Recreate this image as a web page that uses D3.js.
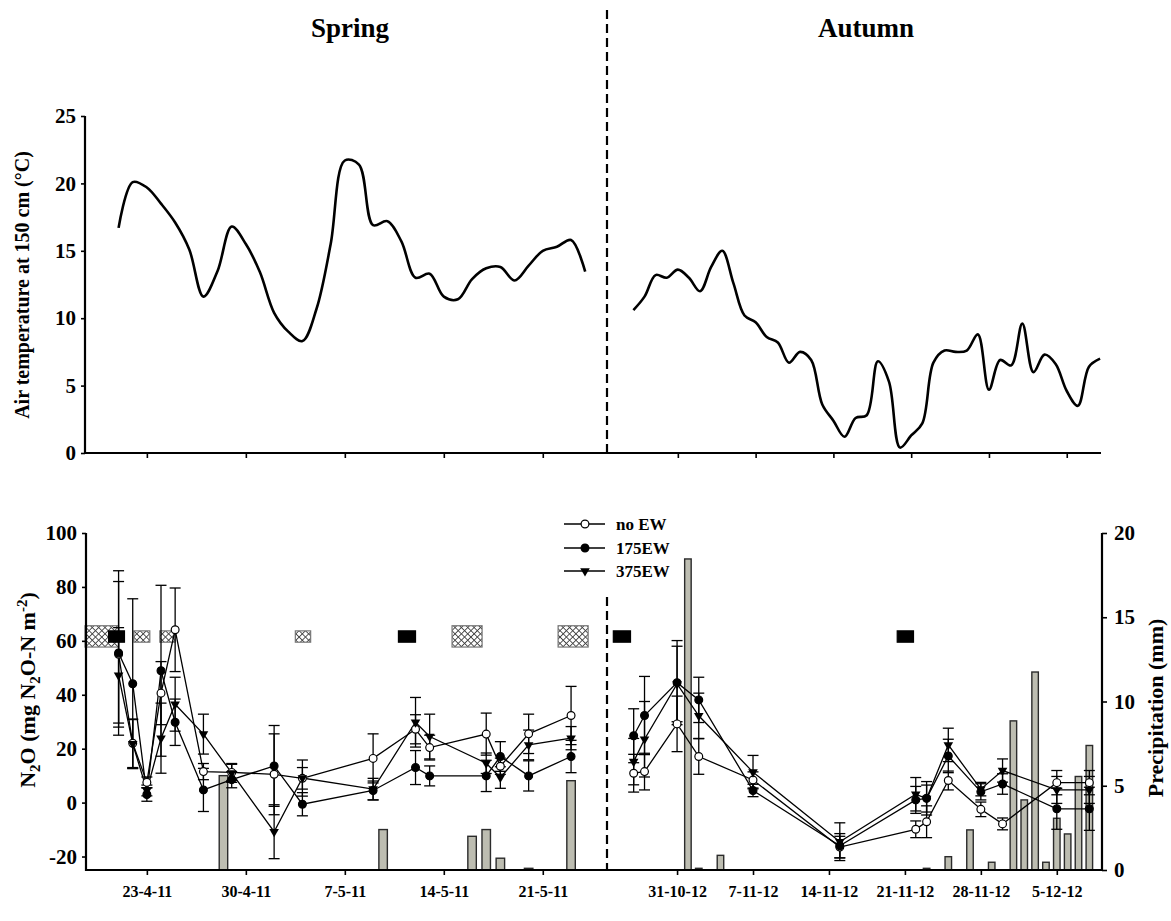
<!DOCTYPE html>
<html>
<head>
<meta charset="utf-8">
<script src="https://cdn.jsdelivr.net/npm/d3@7.9.0/dist/d3.min.js"></script>
<style>
  body { margin: 0; background: #fff; }
  svg { display: block; }
  text { font-family: "Liberation Serif", "Times New Roman", serif; font-weight: bold; fill: #000; }
</style>
</head>
<body>
<svg id="chart" width="1171" height="921"></svg>
<script>
// ---- data ----
// daily air temperature (°C) at 150 cm
const springTempStart = "2011-04-21";
const springTemp = [16.7, 20.1, 19.7, 18.5, 17.1, 15.1, 11.6, 13.5, 16.8, 15.5,
  13.4, 10.4, 9.0, 8.3, 10.7, 15.5, 21.7, 21.4, 16.9, 17.2, 15.7, 13.0, 13.3, 11.6,
  11.4, 12.9, 13.7, 13.8, 12.8, 13.9, 15.0, 15.3, 15.8, 13.45];
const autumnTempStart = "2012-10-27";
const autumnTemp = [10.6, 11.6, 13.2, 13.0, 13.6, 13.0, 12.0, 13.8, 15.0, 12.6,
  10.2, 9.7, 8.6, 8.2, 6.7, 7.5, 6.9, 3.6, 2.4, 1.2, 2.6, 2.8, 6.8, 5.3, 0.4, 1.3,
  2.2, 6.7, 7.6, 7.5, 7.6, 8.8, 4.7, 6.9, 6.5, 9.6, 6.0, 7.3, 6.6, 4.6, 3.5, 6.4, 7.0];

// N2O fluxes (mg N2O-N m-2) with error bars
const springDates = ["2011-04-21", "2011-04-22", "2011-04-23", "2011-04-24", "2011-04-25",
  "2011-04-27", "2011-04-29", "2011-05-02", "2011-05-04", "2011-05-09", "2011-05-12",
  "2011-05-13", "2011-05-17", "2011-05-18", "2011-05-20", "2011-05-23"];
const springNoEW    = [55, 22, 7.5, 40.6, 64.1, 11.5, 11.2, 10.5, 9, 16.4, 27.2, 20.4, 25.4, 13.5, 25.5, 32.3];
const springNoEWErr = [27, 9, 2, 11.7, 15.5, 3, 3, 15, 4, 9.1, 5.4, 4.6, 7.8, 3, 7.3, 10.8];
const spring175     = [55.5, 44.1, 3, 48.9, 29.8, 4.7, 8.5, 13.6, -0.6, 4.5, 13, 9.9, 9.9, 17.1, 9.9, 17.1];
const spring175Err  = [30.5, 31.5, 2.5, 31.7, 8.6, 8, 3, 15, 4.3, 3.5, 6.3, 3.7, 5.8, 5.5, 5.6, 6];
const spring375     = [47.2, 21.8, 4.5, 23.9, 36.5, 25.4, 11, -10.8, 9.1, 5, 29.8, 24.5, 14.6, 9.3, 21.4, 23.9];
const spring375Err  = [17.7, 9, 2, 13, 10, 7.4, 3.5, 10, 6.7, 4, 9.2, 8.3, 3.8, 4, 5.5, 4.3];

const autumnDates = ["2012-10-27", "2012-10-28", "2012-10-31", "2012-11-02", "2012-11-07",
  "2012-11-15", "2012-11-22", "2012-11-23", "2012-11-25", "2012-11-28", "2012-11-30",
  "2012-12-05", "2012-12-08"];
const autumnNoEW    = [10.9, 11.5, 29.2, 17.1, 8.4, -16.5, -9.9, -7.1, 8.2, -2.5, -7.9, 7.4, 7.4];
const autumnNoEWErr = [7, 6.8, 10.3, 6.6, 3, 4, 3.1, 5.9, 3.5, 2.7, 2.2, 4.5, 4.5];
const autumn175     = [24.8, 32.3, 44.5, 38.1, 4.5, -16, 1, 1.6, 17.3, 4, 6.9, -2.3, -2.3];
const autumn175Err  = [10, 14.5, 15.6, 8.4, 2.3, 4.5, 5, 6.2, 6.2, 3, 3.8, 7.6, 8];
const autumn375     = [15.2, 23.5, 44, 32.2, 11.3, -14.5, 3.1, 1.5, 21.4, 5, 11.9, 4.7, 4.7];
const autumn375Err  = [8.6, 14, 14, 8.4, 6.2, 7, 6.2, 5, 6.2, 2.5, 4.3, 5, 5];

// daily precipitation (mm)
const springRainDates = ["2011-04-28 10", "2011-05-09 17", "2011-05-16 00", "2011-05-17 00",
  "2011-05-18 00", "2011-05-20 00", "2011-05-23 00"];
const springRain = [5.6, 2.4, 2.0, 2.4, 0.7, 0.1, 5.3];
const autumnRainDates = ["2012-11-01", "2012-11-02", "2012-11-04", "2012-11-23", "2012-11-25",
  "2012-11-27", "2012-11-29", "2012-12-01", "2012-12-02", "2012-12-03", "2012-12-04",
  "2012-12-05", "2012-12-06", "2012-12-07", "2012-12-08"];
const autumnRain = [18.46, 0.1, 0.87, 0.1, 0.79, 2.38, 0.46, 8.85, 4.16, 11.75, 0.46, 3.07, 2.14, 5.55, 7.39];

// field events drawn as boxes: [start, end, kind]
const springEvents = [
  ["2011-04-18 15", "2011-04-21 00", "hatch"],
  ["2011-04-22 02", "2011-04-23 05", "hatch"],
  ["2011-04-23 22", "2011-04-25 00", "hatch"],
  ["2011-05-03 12", "2011-05-04 14", "hatch"],
  ["2011-05-14 14", "2011-05-16 17", "hatch"],
  ["2011-05-22 02", "2011-05-24 05", "hatch"],
  ["2011-04-20 07", "2011-04-21 10", "solid"],
  ["2011-05-10 19", "2011-05-12 00", "solid"]
];
const autumnEvents = [
  ["2012-10-25 03", "2012-10-26 17", "solid"],
  ["2012-11-20 07", "2012-11-21 19", "solid"]
];

const seriesNames = ["no EW", "175EW", "375EW"];
const springTicks = ["2011-04-23", "2011-04-30", "2011-05-07", "2011-05-14", "2011-05-21"];
const autumnTicks = ["2012-10-31", "2012-11-07", "2012-11-14", "2012-11-21", "2012-11-28", "2012-12-05"];

// ---- helpers ----
const parseDay = d3.timeParse("%Y-%m-%d");
const parseHour = d3.timeParse("%Y-%m-%d %H");
const parse = s => s.length > 10 ? parseHour(s) : parseDay(s);
const fmt = d3.timeFormat("%-d-%-m-%y");
const DAY = 864e5;
const plain = d => String(d); // keeps the hyphen minus used in the figure

const svg = d3.select("#chart");

// crosshatch fill for the event boxes
const defs = svg.append("defs");
const pat = defs.append("pattern")
  .attr("id", "hatch")
  .attr("width", 4.5).attr("height", 4.5)
  .attr("patternUnits", "userSpaceOnUse")
  .attr("patternTransform", "rotate(45)");
pat.append("rect").attr("width", 4.5).attr("height", 4.5).attr("fill", "#fff");
pat.append("line").attr("x1", 0).attr("y1", 0).attr("x2", 4.5).attr("y2", 0).attr("stroke", "#444").attr("stroke-width", 1.8);
pat.append("line").attr("x1", 0).attr("y1", 0).attr("x2", 0).attr("y2", 4.5).attr("stroke", "#444").attr("stroke-width", 1.8);

// ---- scales ----
const xSpring = d3.scaleTime().domain([parse("2011-04-18 15"), parse("2011-05-25 13")]).range([85, 607]);
const xAutumnTop = d3.scaleTime().domain([parse("2012-10-24 15"), parse("2012-12-08 02")]).range([607, 1101]);
const xAutumnBot = d3.scaleTime().domain([parse("2012-10-24 13"), parse("2012-12-09 04")]).range([607, 1102]);

const yT = d3.scaleLinear().domain([0, 25]).range([453, 116]);
const yN = d3.scaleLinear().domain([-25, 100]).range([870, 533]);
const yP = d3.scaleLinear().domain([0, 20]).range([870, 533]);

function styleAxis(g, size) {
  g.select(".domain").remove();
  g.selectAll(".tick line").attr("stroke", "#000").attr("stroke-width", 1.6);
  g.selectAll(".tick text").attr("font-size", size).attr("fill", "#000")
    .attr("font-family", "Liberation Serif, Times New Roman, serif").attr("font-weight", "bold");
}

// ---- top panel: air temperature ----
svg.append("g").attr("transform", "translate(85,0)")
  .call(d3.axisLeft(yT).tickValues([0, 5, 10, 15, 20, 25]).tickFormat(plain).tickSize(4).tickPadding(5).tickSizeOuter(0))
  .call(g => styleAxis(g, 21));
svg.append("g").attr("transform", "translate(0,453)")
  .call(d3.axisBottom(xSpring).tickValues(springTicks.map(parse)).tickSize(5).tickFormat("").tickSizeOuter(0))
  .call(g => styleAxis(g, 16));
svg.append("g").attr("transform", "translate(0,453)")
  .call(d3.axisBottom(xAutumnTop).tickValues(autumnTicks.map(parse)).tickSize(5).tickFormat("").tickSizeOuter(0))
  .call(g => styleAxis(g, 16));

svg.append("line").attr("x1", 85).attr("x2", 85).attr("y1", 116).attr("y2", 454)
  .attr("stroke", "#000").attr("stroke-width", 2.2);
svg.append("line").attr("x1", 84).attr("x2", 1101).attr("y1", 453).attr("y2", 453)
  .attr("stroke", "#000").attr("stroke-width", 2.2);

const tempLine = x => d3.line()
  .x(d => x(d.date)).y(d => yT(d.value))
  .curve(d3.curveCatmullRom.alpha(0.5));

const springTempData = springTemp.map((v, i) => ({ date: d3.timeDay.offset(parse(springTempStart), i), value: v }));
const autumnTempData = autumnTemp.map((v, i) => ({ date: d3.timeDay.offset(parse(autumnTempStart), i), value: v }));

svg.append("path").datum(springTempData).attr("d", tempLine(xSpring))
  .attr("fill", "none").attr("stroke", "#000").attr("stroke-width", 2.6);
svg.append("path").datum(autumnTempData).attr("d", tempLine(xAutumnTop))
  .attr("fill", "none").attr("stroke", "#000").attr("stroke-width", 2.6);

svg.append("text").attr("transform", "translate(29,285) rotate(-90)")
  .attr("text-anchor", "middle").attr("font-size", 20)
  .text("Air temperature at 150 cm (°C)");

// season titles
svg.append("text").attr("x", 350).attr("y", 37).attr("text-anchor", "middle").attr("font-size", 27).text("Spring");
svg.append("text").attr("x", 866).attr("y", 37).attr("text-anchor", "middle").attr("font-size", 27).text("Autumn");

// ---- bottom panel: precipitation bars ----
function drawRain(dates, values, x) {
  const data = dates.map((d, i) => ({ date: parse(d), value: values[i] }));
  svg.append("g").selectAll("rect")
    .data(data)
    .enter().append("rect")
    .attr("x", d => x(new Date(+d.date - 0.3 * DAY)))
    .attr("width", d => x(new Date(+d.date + 0.3 * DAY)) - x(new Date(+d.date - 0.3 * DAY)))
    .attr("y", d => yP(d.value))
    .attr("height", d => yP(0) - yP(d.value))
    .attr("fill", "#bdbdb1")
    .attr("stroke", "#2b2b2b")
    .attr("stroke-width", 1.4);
}
drawRain(springRainDates, springRain, xSpring);
drawRain(autumnRainDates, autumnRain, xAutumnBot);

// ---- event boxes ----
function drawEvents(events, x) {
  const g = svg.append("g");
  const sorted = events.slice().sort((a, b) => (a[2] === "solid") - (b[2] === "solid"));
  sorted.forEach(([s, e, kind]) => {
    const x0 = x(parse(s)), x1 = x(parse(e));
    const span = (parse(e) - parse(s)) / DAY;
    const big = kind === "hatch" && span > 1.6;
    const top = big ? yN(65.6) : yN(63.7);
    const bot = big ? yN(57.7) : yN(59.5);
    g.append("rect")
      .attr("x", x0).attr("y", top)
      .attr("width", x1 - x0).attr("height", bot - top)
      .attr("fill", kind === "solid" ? "#000" : "url(#hatch)")
      .attr("stroke", kind === "solid" ? "#000" : "#777")
      .attr("stroke-width", 1.2);
  });
}
drawEvents(springEvents, xSpring);
drawEvents(autumnEvents, xAutumnBot);

// ---- N2O series ----
const triangle = d3.symbol().type(d3.symbolTriangle).size(40);

function drawMarker(sel, name) {
  if (name === "375EW") {
    sel.append("path").attr("d", triangle).attr("transform", "rotate(180)")
      .attr("fill", "#000");
  } else {
    sel.append("circle").attr("r", 3.9)
      .attr("fill", name === "no EW" ? "#fff" : "#000")
      .attr("stroke", "#000").attr("stroke-width", 1.2);
  }
}

function drawN2O(dates, series, x) {
  const parsed = dates.map(parse);
  const order = ["no EW", "375EW", "175EW"];
  const list = order.map(n => series.find(s => s.name === n));
  const line = d3.line().x(d => x(d.date)).y(d => yN(d.value));
  const pts = s => s.values.map((v, i) => ({ date: parsed[i], value: v, err: s.err[i] }));

  list.forEach(s => {
    svg.append("path").datum(pts(s)).attr("d", line)
      .attr("fill", "none").attr("stroke", "#000").attr("stroke-width", 1.3);
  });
  list.forEach(s => {
    const g = svg.append("g").attr("stroke", "#000").attr("stroke-width", 1.3);
    pts(s).forEach(d => {
      const cx = x(d.date), hi = yN(d.value + d.err), lo = yN(d.value - d.err);
      g.append("line").attr("x1", cx).attr("x2", cx).attr("y1", hi).attr("y2", lo);
      g.append("line").attr("x1", cx - 5.5).attr("x2", cx + 5.5).attr("y1", hi).attr("y2", hi);
      g.append("line").attr("x1", cx - 5.5).attr("x2", cx + 5.5).attr("y1", lo).attr("y2", lo);
    });
  });
  list.forEach(s => {
    svg.append("g").selectAll("g")
      .data(pts(s))
      .enter().append("g")
      .attr("transform", d => `translate(${x(d.date)},${yN(d.value)})`)
      .each(function () { drawMarker(d3.select(this), s.name); });
  });
}

drawN2O(springDates, [
  { name: "no EW", values: springNoEW, err: springNoEWErr },
  { name: "175EW", values: spring175, err: spring175Err },
  { name: "375EW", values: spring375, err: spring375Err }
], xSpring);
drawN2O(autumnDates, [
  { name: "no EW", values: autumnNoEW, err: autumnNoEWErr },
  { name: "175EW", values: autumn175, err: autumn175Err },
  { name: "375EW", values: autumn375, err: autumn375Err }
], xAutumnBot);

// ---- bottom panel axes ----
svg.append("g").attr("transform", "translate(86,0)")
  .call(d3.axisLeft(yN).tickValues([-20, 0, 20, 40, 60, 80, 100]).tickFormat(plain).tickSize(4).tickPadding(5).tickSizeOuter(0))
  .call(g => styleAxis(g, 21));
svg.append("g").attr("transform", "translate(1102,0)")
  .call(d3.axisRight(yP).tickValues([0, 5, 10, 15, 20]).tickFormat(plain).tickSize(5).tickPadding(7).tickSizeOuter(0))
  .call(g => styleAxis(g, 21));
svg.append("g").attr("transform", "translate(0,870)")
  .call(d3.axisBottom(xSpring).tickValues(springTicks.map(parse)).tickSize(5).tickPadding(11).tickFormat(fmt).tickSizeOuter(0))
  .call(g => styleAxis(g, 16));
svg.append("g").attr("transform", "translate(0,870)")
  .call(d3.axisBottom(xAutumnBot).tickValues(autumnTicks.map(parse)).tickSize(5).tickPadding(11).tickFormat(fmt).tickSizeOuter(0))
  .call(g => styleAxis(g, 16));

svg.append("line").attr("x1", 86).attr("x2", 86).attr("y1", 533).attr("y2", 871)
  .attr("stroke", "#000").attr("stroke-width", 2.2);
svg.append("line").attr("x1", 1102).attr("x2", 1102).attr("y1", 533).attr("y2", 871)
  .attr("stroke", "#000").attr("stroke-width", 2.2);
svg.append("line").attr("x1", 85).attr("x2", 1103).attr("y1", 870).attr("y2", 870)
  .attr("stroke", "#000").attr("stroke-width", 2.2);

// axis titles
const n2oLabel = svg.append("text").attr("transform", "translate(35,690) rotate(-90)")
  .attr("text-anchor", "middle").attr("font-size", 22);
n2oLabel.append("tspan").text("N");
n2oLabel.append("tspan").attr("dy", 5).attr("font-size", 15).text("2");
n2oLabel.append("tspan").attr("dy", -5).text("O (mg N");
n2oLabel.append("tspan").attr("dy", 5).attr("font-size", 15).text("2");
n2oLabel.append("tspan").attr("dy", -5).text("O-N m");
n2oLabel.append("tspan").attr("dy", -8).attr("font-size", 15).text("-2");
n2oLabel.append("tspan").attr("dy", 8).text(")");

svg.append("text").attr("transform", "translate(1163,708) rotate(-90)")
  .attr("text-anchor", "middle").attr("font-size", 22)
  .text("Precipitation (mm)");

// season divider
svg.append("line").attr("x1", 607).attr("x2", 607).attr("y1", 10).attr("y2", 453)
  .attr("stroke", "#000").attr("stroke-width", 2.2).attr("stroke-dasharray", "9,5");
svg.append("line").attr("x1", 607).attr("x2", 607).attr("y1", 597).attr("y2", 870)
  .attr("stroke", "#000").attr("stroke-width", 2.2).attr("stroke-dasharray", "9,5");

// ---- legend ----
const legendRows = [524, 548, 571];
seriesNames.forEach((name, i) => {
  const g = svg.append("g").attr("transform", `translate(0,${legendRows[i]})`);
  g.append("line").attr("x1", 564).attr("x2", 605).attr("stroke", "#000").attr("stroke-width", 1.3);
  drawMarker(g.append("g").attr("transform", "translate(585,0)"), name);
  g.append("text").attr("x", 616).attr("y", 6).attr("font-size", 17).text(name);
});
</script>
</body>
</html>
